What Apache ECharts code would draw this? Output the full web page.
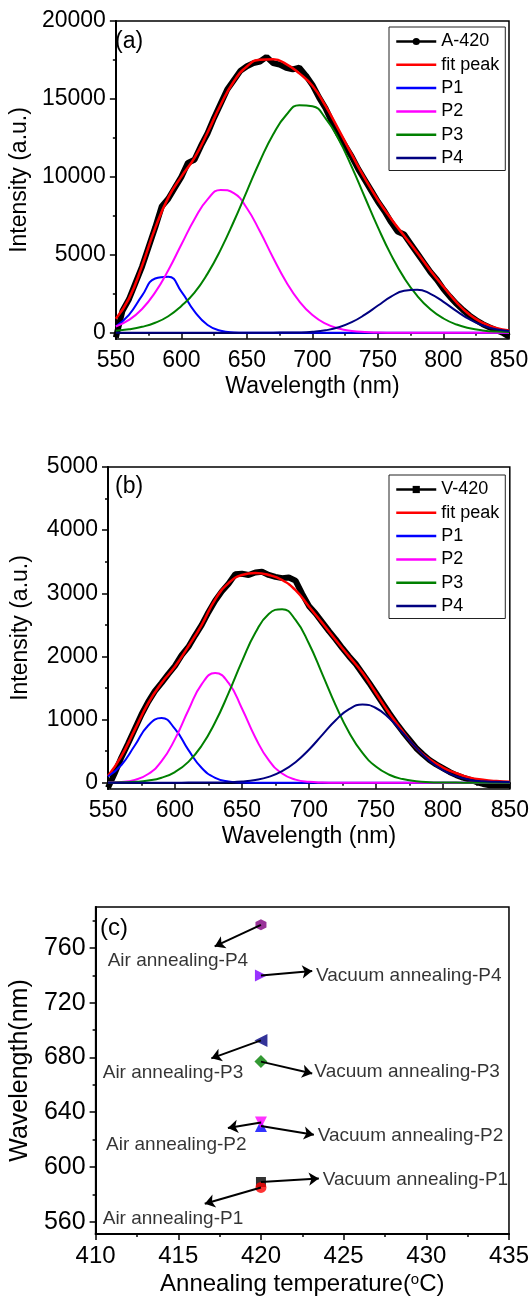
<!DOCTYPE html>
<html><head><meta charset="utf-8">
<script src="https://cdn.jsdelivr.net/npm/echarts@6/dist/echarts.min.js"></script>
<style>html,body{margin:0;padding:0;background:#fff}#c{width:532px;height:1302px}</style>
</head><body><div id="c"></div>
<script>
// ---------- DATA ----------
const wl10 = [550,560,570,580,590,600,610,620,630,640,650,660,670,680,690,700,710,720,730,740,750,760,770,780,790,800,810,820,830,840,850];
const wl5 = [550,555,560,565,570,575,580,585,590,595,600,605,610,615,620,625,630,635,640,645,650,655,660,665,670,675,680,685,690,695,700,705,710,715,720,725,730,735,740,745,750,755,760,765,770,775,780,785,790,795,800,805,810,815,820,825,830,835,840,845,850];

// Panel (a) : A-420
const a420 = [-300,1400,2150,3200,4250,5500,6750,8100,8600,9300,10000,10900,11100,12000,12800,13800,14700,15600,16200,16800,17100,17300,17400,17700,17300,17200,17000,16900,17000,16500,15900,15100,14400,13500,12700,12000,11300,10500,9800,9100,8400,7800,7100,6500,6300,5700,5100,4500,3900,3400,2800,2300,1850,1450,1100,800,550,350,180,0,-250];
const fitA = [900,2190,4290,6710,8670,10020,11225,12850,14630,16120,17080,17520,17540,17240,16640,15850,14550,13030,11440,9900,8520,7320,6220,5130,4000,2950,1950,1150,640,310,150];
const p1A = [420,1150,2380,3480,3600,2640,1370,500,130,25,4,0,0,0,0,0,0,0,0,0,0,0,0,0,0,0,0,0,0,0,0];
const p2A = [404,823,1528,2593,4010,5660,7285,8554,9163,8957,7985,6494,4816,3261,2014,1135,583,273,117,45,17,6,2,0,0,0,0,0,0,0,0];
const p3A = [130,220,380,640,1060,1720,2570,3793,5333,7136,9090,11020,12716,13968,14602,14530,13761,12407,10645,8694,6759,4999,3521,2361,1506,915,529,291,152,76,50];
const p4A = [0,0,0,0,0,0,0,0,0,0,2,4,8,12,22,63,159,350,679,1161,1746,2312,2694,2764,2496,1984,1388,855,464,221,120];

// Panel (b) : V-420
const v420 = [-80,150,400,620,850,1080,1280,1450,1580,1720,1850,2020,2150,2330,2500,2700,2880,3030,3150,3300,3310,3290,3330,3340,3290,3260,3240,3250,3200,2990,2800,2680,2540,2400,2270,2130,2000,1880,1730,1580,1420,1260,1100,950,810,680,550,450,360,290,230,170,120,80,50,10,-20,-40,-40,-40,-40];
const fitB = [105,420,840,1260,1580,1840,2160,2500,2900,3160,3290,3320,3290,3210,3050,2790,2530,2260,2000,1740,1420,1100,815,550,370,240,150,80,45,25,15];
const p1B = [98,280,588,905,1024,851,519,233,77,19,3,0,0,0,0,0,0,0,0,0,0,0,0,0,0,0,0,0,0,0,0];
const p2B = [5,12,45,137,340,690,1148,1561,1737,1580,1176,716,356,145,48,13,3,0,0,0,0,0,0,0,0,0,0,0,0,0,0];
const p3B = [1,5,13,34,79,169,330,588,956,1419,1921,2373,2673,2748,2577,2204,1720,1225,796,471,255,126,57,23,8,3,1,0,0,0,0];
const p4B = [0,0,0,0,0,0,1,1,2,6,17,42,92,182,325,522,758,990,1165,1237,1183,1019,791,554,349,199,102,47,22,15,10];

// tick labels
const yTicksA = [0,5000,10000,15000,20000];
const yMinorA = [2500,7500,12500,17500];
const yTicksB = [0,1000,2000,3000,4000,5000];
const yMinorB = [500,1500,2500,3500,4500];
const yTicksC = [560,600,640,680,720,760];
const yMinorC = [580,620,660,700,740,780];

// Panel (c) : peak positions at 420 °C
const annealTemp = 420;
const airPeaks = [585, 632.5, 692.5, 777];      // P1..P4
const vacPeaks = [589, 630, 677, 740];          // P1..P4
const airLabels = ['Air annealing-P1','Air annealing-P2','Air annealing-P3','Air annealing-P4'];
const vacLabels = ['Vacuum annealing-P1','Vacuum annealing-P2','Vacuum annealing-P3','Vacuum annealing-P4'];
const airArrowTips = [[416.6,573.1],[418.0,628.4],[417.0,679.4],[417.2,761.2]];
const vacArrowTips = [[423.5,591.6],[423.2,623.6],[423.1,668.3],[423.1,743.3]];
const airLabelPos = [[410.4,562.4],[410.6,616.3],[410.4,669.2],[410.7,751]];
const vacLabelPos = [[423.7,590.8],[423.4,623],[423.2,669.7],[423.3,740.1]];

// ---------- CHART ----------
const FONT = "'Liberation Sans', Arial, sans-serif";
const pairs = (xs, ys) => xs.map((x, i) => [x, ys[i]]);
const plain = v => String(v);
const chart = echarts.init(document.getElementById('c'), null, {renderer: 'canvas'});

function xAx(grid, min, max, interval, name, fs, nameGap, rich) {
  return {
    gridIndex: grid, type: 'value', min, max, interval,
    axisLine: {lineStyle: {color: '#000', width: 2}},
    axisTick: {length: 6, lineStyle: {color: '#000', width: 1.5}},
    minorTick: {show: true, splitNumber: 2, length: 3, lineStyle: {color: '#000', width: 1.5}},
    splitLine: {show: false},
    axisLabel: {color: '#000', fontSize: fs, fontFamily: FONT, margin: 10, formatter: plain},
    name, nameLocation: 'middle', nameGap,
    nameTextStyle: {color: '#000', fontSize: fs, fontFamily: FONT, rich: rich || {}}
  };
}
function yAx(grid, min, max, ticks, name, fs, nameGap) {
  return {
    gridIndex: grid, type: 'value', min, max, position: 'left',
    axisLine: {lineStyle: {color: '#000', width: 2}},
    axisTick: {length: 6, customValues: ticks, lineStyle: {color: '#000', width: 1.5}},
    splitLine: {show: false},
    axisLabel: {color: '#000', fontSize: fs, fontFamily: FONT, margin: 10, customValues: ticks, formatter: plain},
    name, nameLocation: 'middle', nameGap, nameRotate: 90,
    nameTextStyle: {color: '#000', fontSize: fs, fontFamily: FONT}
  };
}
function yMinor(grid, min, max, ticks) {
  return {
    gridIndex: grid, type: 'value', min, max, position: 'left',
    axisLine: {show: false},
    axisTick: {length: 3, customValues: ticks, lineStyle: {color: '#000', width: 1.5}},
    axisLabel: {show: false},
    splitLine: {show: false}
  };
}
function line(name, xs, ys, color, width, xi, yi, smooth, symbol) {
  return {
    type: 'line', name, data: pairs(xs, ys), xAxisIndex: xi, yAxisIndex: yi,
    smooth: smooth, symbol: symbol || 'none', showSymbol: false, symbolSize: 7,
    lineStyle: {color, width}, itemStyle: {color},
    emphasis: {disabled: true}, silent: true
  };
}
const noDot = {color: 'rgba(0,0,0,0)', borderWidth: 0};
function legendFor(first, top) {
  return {
    orient: 'vertical', left: 389, top, itemWidth: 40, itemHeight: 9, itemGap: 4.3,
    padding: [5, 6, 3, 6], borderColor: '#222', borderWidth: 1, backgroundColor: '#fff',
    textStyle: {color: '#000', fontSize: 18, fontFamily: FONT, lineHeight: 19},
    lineStyle: {width: 2.5},
    data: [
      {name: first},
      {name: 'fit peak', itemStyle: noDot},
      {name: 'P1', itemStyle: noDot},
      {name: 'P2', itemStyle: noDot},
      {name: 'P3', itemStyle: noDot},
      {name: 'P4', itemStyle: noDot}
    ],
    selectedMode: false
  };
}

const series = [
  line('A-420', wl5, a420, '#000', 6, 0, 0, false, 'circle'),
  line('fit peak', wl10, fitA, '#ff0000', 2.5, 0, 0, true),
  line('P1', wl10, p1A, '#0000ff', 2, 0, 0, true),
  line('P2', wl10, p2A, '#ff00ff', 2, 0, 0, true),
  line('P3', wl10, p3A, '#008000', 2, 0, 0, true),
  line('P4', wl10, p4A, '#000080', 2, 0, 0, true),
  line('V-420', wl5, v420, '#000', 6, 1, 2, false, 'rect'),
  line('fit peak', wl10, fitB, '#ff0000', 2.5, 1, 2, true),
  line('P1', wl10, p1B, '#0000ff', 2, 1, 2, true),
  line('P2', wl10, p2B, '#ff00ff', 2, 1, 2, true),
  line('P3', wl10, p3B, '#008000', 2, 1, 2, true),
  line('P4', wl10, p4B, '#000080', 2, 1, 2, true)
];

// panel (c) markers
const hexagon = 'path://M0,-1 L0.866,-0.5 L0.866,0.5 L0,1 L-0.866,0.5 L-0.866,-0.5 Z';
const markers = [
  {v: vacPeaks[0], sym: 'rect', size: 10, rot: 0, color: '#000'},
  {v: airPeaks[0], sym: 'circle', size: 11, rot: 0, color: '#ff0000'},
  {v: vacPeaks[1], sym: 'triangle', size: 12, rot: 0, color: '#0000ff'},
  {v: airPeaks[1], sym: 'triangle', size: 12, rot: 180, color: '#ff00ff'},
  {v: vacPeaks[2], sym: 'diamond', size: 13, rot: 0, color: '#008000'},
  {v: airPeaks[2], sym: 'triangle', size: 13, rot: 90, color: '#000080'},
  {v: vacPeaks[3], sym: 'triangle', size: 12, rot: -90, color: '#8000ff'},
  {v: airPeaks[3], sym: hexagon, size: 11, rot: 0, color: '#800080'}
];
markers.forEach(m => series.push({
  type: 'scatter', xAxisIndex: 2, yAxisIndex: 4, data: [[annealTemp, m.v]],
  symbol: m.sym, symbolSize: m.size, symbolRotate: m.rot, itemStyle: {color: m.color},
  silent: true, z: 3
}));

const arrowData = [];
for (let i = 0; i < 4; i++) {
  arrowData.push([{coord: [annealTemp, airPeaks[i]]}, {coord: airArrowTips[i]}]);
  arrowData.push([{coord: [annealTemp, vacPeaks[i]]}, {coord: vacArrowTips[i]}]);
}
const textData = [];
for (let i = 0; i < 4; i++) {
  textData.push({value: airLabelPos[i], name: airLabels[i]});
  textData.push({value: vacLabelPos[i], name: vacLabels[i]});
}
series.push({
  type: 'scatter', xAxisIndex: 2, yAxisIndex: 4, data: textData,
  symbol: 'circle', symbolSize: 1, itemStyle: {color: 'rgba(0,0,0,0)'}, silent: true, z: 4,
  label: {show: true, position: 'right', distance: 0, formatter: '{b}', color: '#000', fontSize: 19, fontFamily: FONT},
  markLine: {
    silent: true, symbol: ['none', 'arrow'], symbolSize: 10, animation: false,
    lineStyle: {color: '#000', width: 2, type: 'solid'},
    label: {show: false}, emphasis: {disabled: true},
    data: arrowData
  }
});

const option = {
  backgroundColor: '#fff',
  animation: false,
  grid: [
    {left: 108, right: 23, top: 21, height: 318, show: true, borderColor: '#000', borderWidth: 1.5},
    {left: 108, right: 21, top: 467, height: 322, show: true, borderColor: '#000', borderWidth: 1.5},
    {left: 92, right: 21, top: 907, height: 327, show: true, borderColor: '#000', borderWidth: 1.5}
  ],
  xAxis: [
    xAx(0, 550, 850, 50, 'Wavelength (nm)', 23, 36),
    xAx(1, 550, 850, 50, 'Wavelength (nm)', 23, 36),
    xAx(2, 410, 435, 5, 'Annealing temperature({sup|o}C)', 24, 38, {sup: {fontSize: 15, verticalAlign: 'top', padding: [0, 0, 10, 0], fontFamily: FONT, color: '#000'}})
  ],
  yAxis: [
    yAx(0, -400, 20000, yTicksA, 'Intensity (a.u.)', 23, 76),
    yMinor(0, -400, 20000, yMinorA),
    yAx(1, -100, 5000, yTicksB, 'Intensity (a.u.)', 23, 76),
    yMinor(1, -100, 5000, yMinorB),
    yAx(2, 551, 790, yTicksC, 'Wavelength(nm)', 25, 56),
    yMinor(2, 551, 790, yMinorC)
  ],
  legend: [legendFor('A-420', 27), legendFor('V-420', 475)],
  graphic: [
    {type: 'text', left: 115, top: 30, style: {text: '(a)', fontSize: 23, fontFamily: FONT, fill: '#000'}},
    {type: 'text', left: 115, top: 475, style: {text: '(b)', fontSize: 23, fontFamily: FONT, fill: '#000'}},
    {type: 'text', left: 100, top: 916, style: {text: '(c)', fontSize: 24, fontFamily: FONT, fill: '#000'}}
  ],
  series
};
chart.setOption(option);
</script>
</body></html>
